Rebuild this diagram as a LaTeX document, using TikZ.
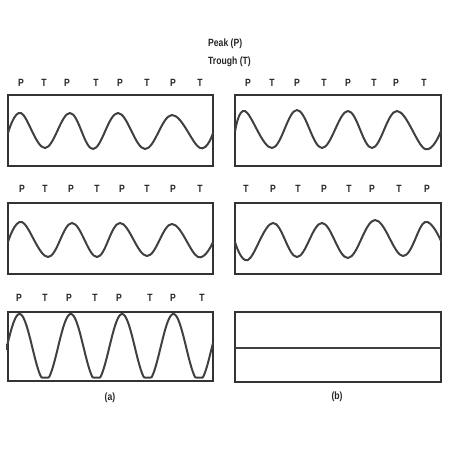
\documentclass[tikz,border=0pt]{standalone}
\usepackage{fontspec}
\usepackage{tikz}
\newfontfamily\narrowsans[FakeStretch=0.82]{Liberation Sans Bold}

\tikzset{
  lbl/.style={font=\narrowsans\fontsize{10.5}{12}\selectfont, inner sep=0pt, text=black!85},
  panel/.style={line width=1.3pt, draw=black!80},
  wave/.style={line width=2pt, draw=black!75, line join=round},
}

\begin{document}
\begin{tikzpicture}[x=1pt,y=-1pt]
\useasboundingbox (0,0) rectangle (450,450);
% legend
\node[lbl, anchor=west] (peak) at (208,44) {Peak (P)};
\node[lbl, anchor=west] (trough) at (208,62) {Trough (T)};
% panels
\draw[panel] (8,95) rectangle (213,166);
\draw[panel] (235,95) rectangle (441,166);
\draw[panel] (8,203) rectangle (213,274);
\draw[panel] (235,203) rectangle (441,274);
\draw[panel] (8,312) rectangle (213,381);
\draw[panel] (235,312) rectangle (441,382);
% P/T marks
\foreach \x/\t [count=\i] in {21/P,44/T,67/P,96/T,120/P,147/T,173/P,200/T}
  \node[lbl] (ra\i) at (\x,83) {\t};
\foreach \x/\t [count=\i] in {248/P,272/T,297/P,324/T,348/P,374/T,396/P,424/T}
  \node[lbl] (rb\i) at (\x,83) {\t};
\foreach \x/\t [count=\i] in {22/P,45/T,71/P,97/T,122/P,147/T,173/P,200/T}
  \node[lbl] (sa\i) at (\x,189) {\t};
\foreach \x/\t [count=\i] in {246/T,273/P,298/T,324/P,349/T,372/P,399/T,427/P}
  \node[lbl] (sb\i) at (\x,189) {\t};
\foreach \x/\t [count=\i] in {19/P,45/T,69/P,95/T,119/P,150/T,173/P,202/T}
  \node[lbl] (ta\i) at (\x,298) {\t};
% waves
\draw[wave] plot[smooth, tension=0.65] coordinates {(8,133) (21,113) (45,148) (70,113) (93,149) (118,113) (145,149) (172,115) (200,148) (213,133)};
\draw[wave] plot[smooth, tension=0.65] coordinates {(235,132) (245,111) (272,148) (297,110) (322,148) (348,111) (372,148) (397,111) (425,149) (441,131)};
\draw[wave] plot[smooth, tension=0.65] coordinates {(8,242) (22,222) (48,257) (72,223) (97,257) (120,223) (147,256) (172,224) (198,257) (213,242)};
\draw[wave] plot[smooth, tension=0.65] coordinates {(235,242) (248,260) (273,223) (297,257) (322,223) (348,258) (375,220) (403,256) (425,222) (441,241)};
% clipped (saturated) wave
\draw[wave] plot[domain=7:213, samples=220] (\x, {min(377.5, 347.5-33.5*cos(7.018*(\x-19.5)))});
\draw[wave] (7,344) -- (7,350);
% flat response
\draw[wave, line width=2.4pt] (235,348) -- (441,348);
% captions
\node[lbl] (capa) at (110,398) {(a)};
\node[lbl] (capb) at (337,397) {(b)};
\end{tikzpicture}
\end{document}
